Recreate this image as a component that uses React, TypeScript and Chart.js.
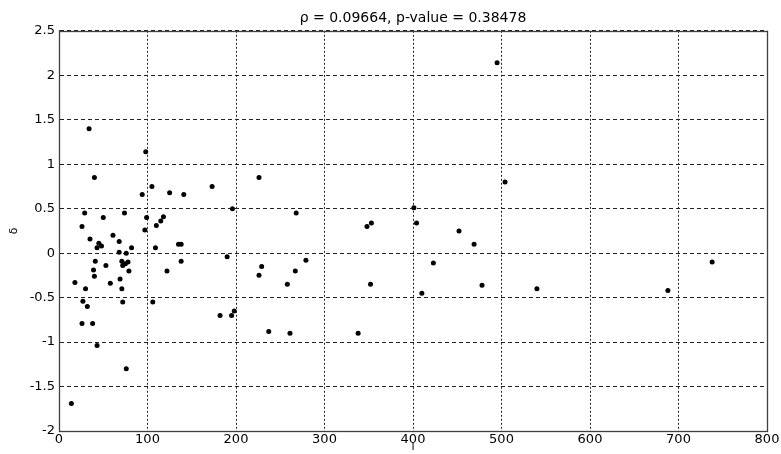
import React, { useEffect, useRef } from "react";
import { Chart, registerables } from "chart.js";

Chart.register(...registerables);

const TITLE = "ρ = 0.09664, p-value = 0.38478";
const X_LABEL = "l";
const Y_LABEL = "δ";

const xValues = [
  279, 495, 504, 401, 348, 353, 404, 452, 469, 423, 738, 352, 478, 410, 540, 688, 338,
  98, 226, 105, 173, 94, 125, 141, 196, 268, 99, 118, 115, 110, 97, 109, 135, 138, 190,
  138, 122, 229, 226, 267, 258, 106, 182, 195, 198, 237, 261,
  34, 40, 29, 50, 74, 26, 61, 35, 68, 45, 43, 48, 82, 68, 76, 41, 53, 71, 75, 78, 72,
  39, 79, 40, 18, 58, 69, 30, 71, 27, 32, 72, 26, 38, 43, 76, 14,
];
const yValues = [
  -0.08, 2.14, 0.8, 0.51, 0.3, 0.34, 0.34, 0.25, 0.1, -0.11, -0.1, -0.35, -0.36, -0.45, -0.4, -0.42, -0.9,
  1.14, 0.85, 0.75, 0.75, 0.66, 0.68, 0.66, 0.5, 0.45, 0.4, 0.41, 0.36, 0.31, 0.26, 0.06, 0.1, 0.1, -0.04,
  -0.09, -0.2, -0.15, -0.25, -0.2, -0.35, -0.55, -0.7, -0.7, -0.65, -0.88, -0.9,
  1.4, 0.85, 0.45, 0.4, 0.45, 0.3, 0.2, 0.16, 0.13, 0.11, 0.06, 0.08, 0.06, 0.01, 0.0, -0.09, -0.14, -0.09, -0.12, -0.1, -0.14,
  -0.19, -0.2, -0.26, -0.33, -0.34, -0.29, -0.4, -0.4, -0.54, -0.6, -0.55, -0.79, -0.79, -1.04, -1.3, -1.69,
];

const X_MIN = 0, X_MAX = 800, X_STEP = 100;
const Y_MIN = -2, Y_MAX = 2.5, Y_STEP = 0.5;

const FONT = "'DejaVu Sans', Arial, sans-serif";

const boxPlugin = {
  id: "boxPlugin",
  afterDraw(chart: any) {
    const { ctx, chartArea } = chart;
    ctx.save();
    ctx.strokeStyle = "#404040";
    ctx.lineWidth = 1.3;
    ctx.setLineDash([]);
    ctx.strokeRect(
      Math.round(chartArea.left) + 0.5,
      Math.round(chartArea.top) + 0.5,
      Math.round(chartArea.right - chartArea.left),
      Math.round(chartArea.bottom - chartArea.top)
    );
    ctx.restore();
  },
};

export default function App() {
  const ref = useRef<HTMLCanvasElement | null>(null);
  useEffect(() => {
    if (!ref.current) return;
    const data = xValues.map((x, i) => ({ x, y: yValues[i] }));
    const chart = new Chart(ref.current, {
      type: "scatter",
      data: {
        datasets: [
          {
            data,
            pointRadius: 2.5,
            pointBackgroundColor: "#000",
            pointBorderWidth: 0,
            pointBorderColor: "#000",
          },
        ],
      },
      options: {
        animation: false,
        responsive: false,
        devicePixelRatio: 1,
        layout: { padding: { left: 0, right: 14, top: 0, bottom: 0 } },
        plugins: {
          legend: { display: false },
          tooltip: { enabled: false },
          title: {
            display: true,
            fullSize: false,
            text: TITLE,
            color: "#000",
            font: { family: FONT, size: 14, weight: "normal" },
            padding: { top: 10, bottom: 4 },
          },
        },
        scales: {
          x: {
            type: "linear",
            min: X_MIN,
            max: X_MAX,
            ticks: {
              stepSize: X_STEP,
              color: "#000",
              font: { family: FONT, size: 13 },
              padding: 1,
              maxRotation: 0,
              callback: (v: any) => String(v),
            },
            grid: { color: "#222", lineWidth: 1, drawTicks: false },
            border: { display: true, color: "#404040", dash: [2, 2] },
            title: {
              display: true,
              text: X_LABEL,
              color: "#000",
              font: { family: FONT, size: 11 },
              padding: { top: 0, bottom: 0 },
            },
            afterFit: (s: any) => {
              s.height = 23;
            },
          },
          y: {
            type: "linear",
            min: Y_MIN,
            max: Y_MAX,
            ticks: {
              stepSize: Y_STEP,
              color: "#000",
              font: { family: FONT, size: 13 },
              padding: 4,
              callback: (v: any) => String(v),
            },
            grid: { color: "#222", lineWidth: 1, drawTicks: false },
            border: { display: true, color: "#404040", dash: [4, 3] },
            title: {
              display: true,
              text: Y_LABEL,
              color: "#000",
              font: { family: FONT, size: 11 },
              padding: { top: 8, bottom: 0 },
            },
            afterFit: (s: any) => {
              s.width = 59;
            },
          },
        },
      },
      plugins: [boxPlugin],
    });
    return () => chart.destroy();
  }, []);
  return (
    <div style={{ position: "absolute", left: 0, top: 0, width: 781, height: 454, background: "#fff" }}>
      <canvas ref={ref} width={781} height={454} style={{ width: 781, height: 454 }} />
    </div>
  );
}
